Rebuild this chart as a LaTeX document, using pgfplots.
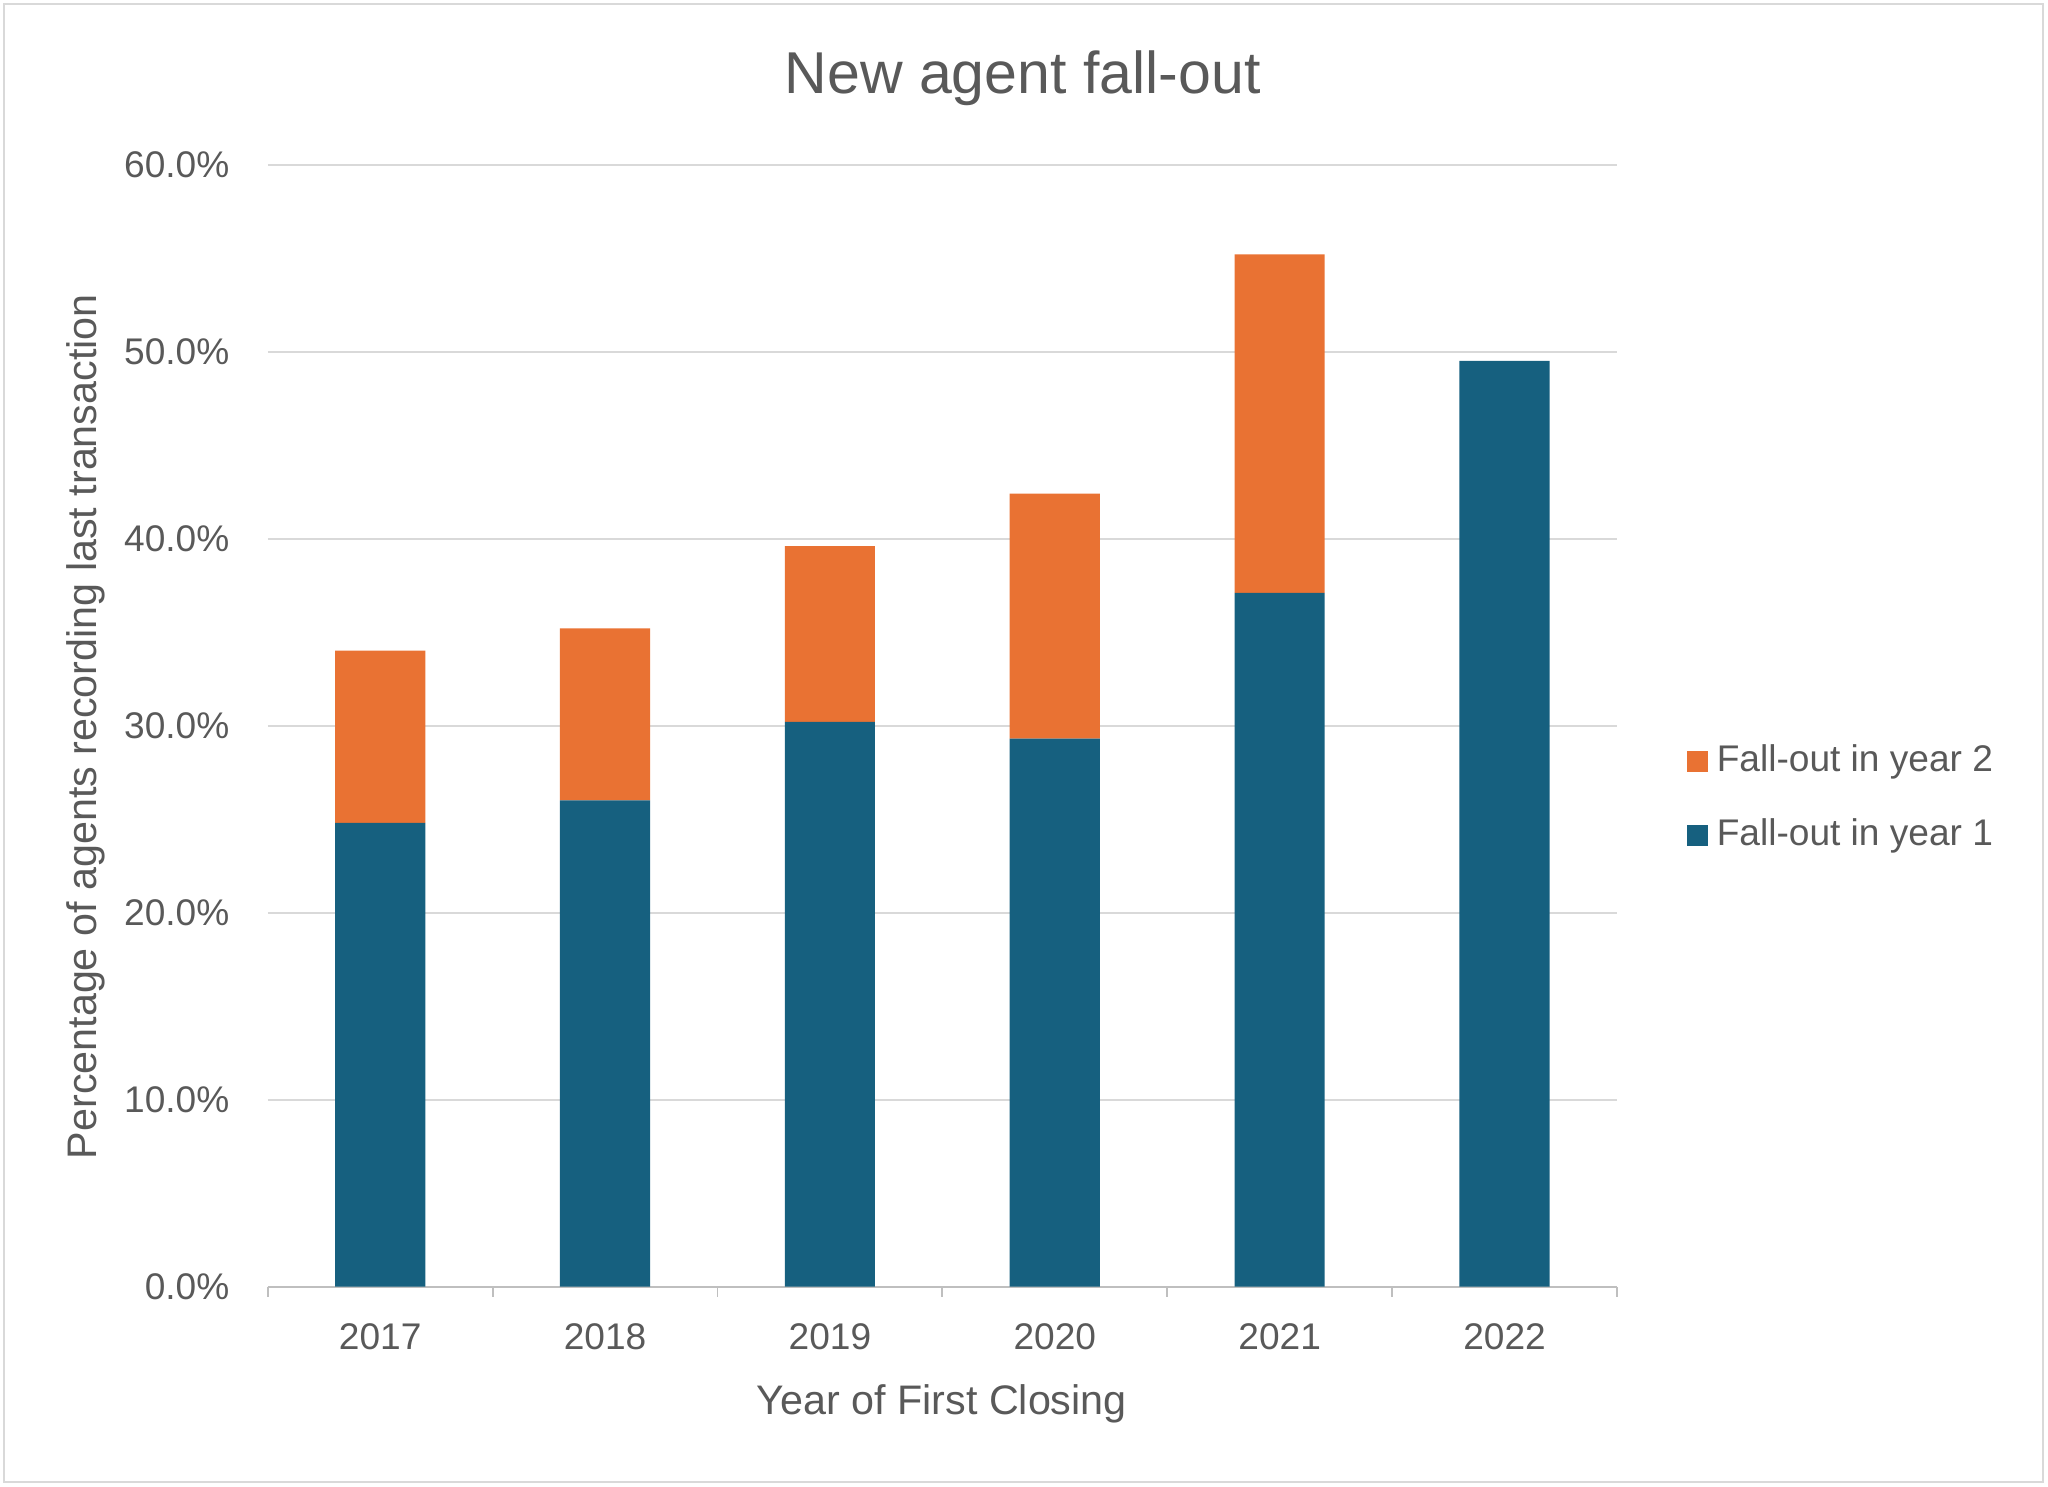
\documentclass[border=0pt]{standalone}
\usepackage{pgfplots}
\pgfplotsset{compat=1.18}
\usepackage{fontspec}
\setmainfont{Liberation Sans}
\definecolor{barblue}{HTML}{16607F}
\definecolor{barorange}{HTML}{E97233}
\definecolor{txtgray}{HTML}{595959}
\definecolor{gridgray}{HTML}{D9D9D9}
\definecolor{tickgray}{HTML}{BFBFBF}
\begin{document}
\begin{tikzpicture}
\begin{axis}[
    scale only axis,
    width=516.5pt, height=429.5pt,
    ybar stacked, bar width=34.5pt,
    xmin=-0.5, xmax=5.5, ymin=0, ymax=60,
    xtick={0,...,5},
    xticklabels={2017,2018,2019,2020,2021,2022},
    ytick={0,10,...,60},
    yticklabel={\pgfmathprintnumber[fixed,fixed zerofill,precision=1]{\tick}\%},
    /pgf/number format/assume math mode=true,
    major tick length=0pt,
    extra x ticks={-0.5,0.5,...,5.5},
    extra x tick labels={},
    extra x tick style={major tick length=4pt, tick align=outside,
        tick style={draw=tickgray, line width=0.75pt}, grid=none},
    axis x line*=bottom, axis y line*=left,
    x axis line style={draw=tickgray, line width=0.75pt, -},
    y axis line style={draw=none},
    ymajorgrids, grid style={draw=gridgray, line width=0.75pt},
    tick label style={font=\fontsize{14.2}{17}\selectfont, text=txtgray},
    yticklabel style={inner sep=0pt, xshift=-14.5pt},
    xticklabel style={inner sep=0pt, anchor=north, yshift=-14pt},
    xlabel={Year of First Closing},
    ylabel={Percentage of agents recording last transaction},
    label style={font=\fontsize{15.8}{19}\selectfont, text=txtgray},
    xlabel style={at={(axis description cs:0.4995,0)}, anchor=center, yshift=-45pt},
    ylabel style={at={(axis description cs:0,0.499)}, anchor=center, yshift=69.5pt},
    title={New agent fall-out},
    title style={at={(axis description cs:0.5595,1)}, anchor=center, yshift=27pt,
        font=\fontsize{22.6}{27}\selectfont, text=txtgray},
    reverse legend,
    legend image code/.code={\path[#1,draw=none] (0pt,-4pt) rectangle (8pt,4pt);},
    legend style={at={(axis description cs:1.0455,0.435)}, anchor=west,
        draw=none, fill=none, font=\fontsize{14.2}{17}\selectfont, text=txtgray,
        nodes={inner sep=1.5pt, text height=10.5pt, text depth=3pt},
        row sep=12pt, column sep=2pt},
    legend cell align=left,
    clip=false,
]
\addplot[fill=barblue, draw=none] coordinates {
    (0,24.8) (1,26.0) (2,30.2) (3,29.3) (4,37.1) (5,49.5)};
\addlegendentry{Fall-out in year 1}
\addplot[fill=barorange, draw=none] coordinates {
    (0,9.2) (1,9.2) (2,9.4) (3,13.1) (4,18.1) (5,0)};
\addlegendentry{Fall-out in year 2}
\coordinate (O) at (rel axis cs:0,0);
\end{axis}
\path[use as bounding box] ([xshift=-102.5pt,yshift=-76.5pt]O) rectangle ([xshift=681.5pt,yshift=492.5pt]O);
\draw[gridgray, line width=0.75pt] ([xshift=-101pt,yshift=-75pt]O) rectangle ([xshift=679.5pt,yshift=491pt]O);
\end{tikzpicture}
\end{document}
